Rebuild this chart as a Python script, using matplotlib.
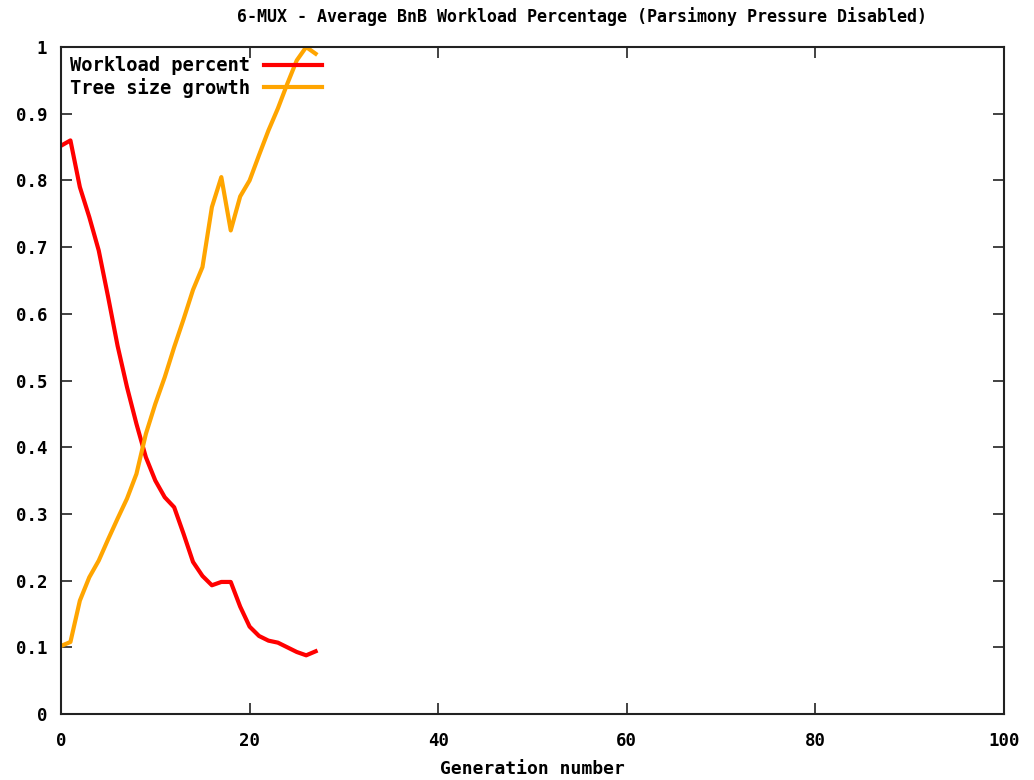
import numpy as np
import matplotlib
matplotlib.use('Agg')
import matplotlib.pyplot as plt

generation = np.arange(28)
workload_percent = [0.852, 0.860, 0.790, 0.745, 0.695, 0.625, 0.552, 0.490,
                    0.435, 0.385, 0.350, 0.325, 0.310, 0.270, 0.228, 0.207,
                    0.193, 0.198, 0.198, 0.161, 0.131, 0.117, 0.110, 0.107,
                    0.100, 0.093, 0.088, 0.094]
tree_size_growth = [0.102, 0.108, 0.170, 0.205, 0.230, 0.262, 0.293, 0.323,
                    0.360, 0.420, 0.465, 0.505, 0.550, 0.592, 0.636, 0.670,
                    0.760, 0.805, 0.725, 0.776, 0.800, 0.838, 0.875, 0.908,
                    0.945, 0.980, 1.000, 0.990]

xticks = [0, 20, 40, 60, 80, 100]
yticks = [0, 0.1, 0.2, 0.3, 0.4, 0.5, 0.6, 0.7, 0.8, 0.9, 1]
ytick_labels = ['0', '0.1', '0.2', '0.3', '0.4', '0.5', '0.6', '0.7', '0.8', '0.9', '1']

plt.rcParams['font.family'] = ['DejaVu Sans Mono']
plt.rcParams['font.weight'] = 'bold'
plt.rcParams['font.size'] = 12.5

fig = plt.figure(figsize=(10.34, 7.80), dpi=100)
ax = fig.add_axes([0.059, 0.0846, 0.912, 0.8551])

ax.plot(generation, workload_percent, color='#ff0000', lw=3, label='Workload percent')
ax.plot(generation, tree_size_growth, color='#ffa500', lw=3, label='Tree size growth')

ax.set_xlim(0, 100)
ax.set_ylim(0, 1)
ax.set_xticks(xticks)
ax.set_yticks(yticks)
ax.set_yticklabels(ytick_labels)
ax.tick_params(direction='in', length=8, width=1.2, top=True, right=True,
               colors='#222222', labelcolor='black', labelsize=12.5)
ax.tick_params(axis='x', pad=13)
ax.tick_params(axis='y', pad=10)
for s in ax.spines.values():
    s.set_linewidth(1.5)
    s.set_color('#222222')

# title sits centred on the canvas, a bit right of the plot centre
fig.text(0.563, 0.979, '6-MUX - Average BnB Workload Percentage (Parsimony Pressure Disabled)',
         fontsize=12, fontweight='bold', ha='center', va='center')
ax.set_xlabel('Generation number', fontsize=13, fontweight='bold', labelpad=7)

ax.legend(loc='upper left', frameon=False, markerfirst=False,
          handlelength=3.1, handletextpad=0.7, borderaxespad=0.1,
          labelspacing=0.12, fontsize=13.5, bbox_to_anchor=(0.0, 1.0))

fig.savefig('out.png', dpi=100)
